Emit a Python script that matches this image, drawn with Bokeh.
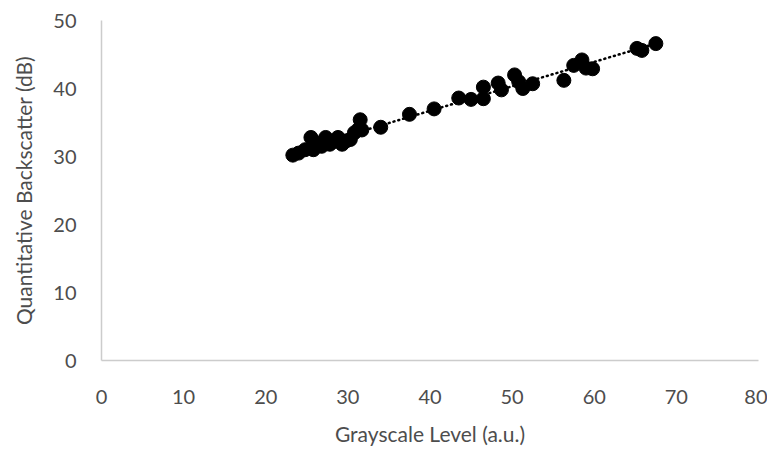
import numpy as np
from bokeh.plotting import figure
from bokeh.models import Range1d, FixedTicker
from bokeh.embed import file_html
from bokeh.resources import INLINE

grayscale = [23.3, 24.0, 24.8, 25.5, 25.8, 26.2, 26.8, 27.3, 27.8, 28.2,
             28.8, 29.3, 29.8, 30.3, 30.8, 31.3, 31.5, 31.7, 34.0, 37.5,
             40.5, 43.5, 45.0, 46.5, 46.5, 48.3, 48.7, 50.3, 50.8, 51.3,
             52.5, 56.3, 57.5, 58.5, 59.0, 59.8, 65.2, 65.8, 67.5]
backscatter = [30.2, 30.5, 31.0, 32.8, 31.0, 32.0, 31.5, 32.8, 31.8, 32.2,
               32.8, 31.8, 32.3, 32.5, 33.5, 34.0, 35.4, 33.9, 34.3, 36.2,
               37.0, 38.6, 38.4, 40.2, 38.5, 40.8, 39.8, 42.0, 41.0, 40.0,
               40.7, 41.2, 43.4, 44.2, 43.0, 42.9, 45.9, 45.6, 46.6]
x_ticks = [0, 10, 20, 30, 40, 50, 60, 70, 80]
y_ticks = [0, 10, 20, 30, 40, 50]

FONT = "Lato"
TXT = "#4d4d4d"

p = figure(width=767, height=448, output_backend="svg", toolbar_location=None,
           x_range=Range1d(0, 80), y_range=Range1d(0, 50),
           min_border_left=101, min_border_right=9, min_border_top=20, min_border_bottom=86)
p.outline_line_color = None
p.xgrid.grid_line_color = None
p.ygrid.grid_line_color = None

# trendline (linear fit)
coef = np.polyfit(grayscale, backscatter, 1)
xs = np.array([min(grayscale), max(grayscale)])
p.line(xs, np.polyval(coef, xs), line_color="black", line_width=2.5,
       line_dash="1 4", line_cap="round")

p.scatter(grayscale, backscatter, size=14, fill_color="black", line_color="black")

for ax in (p.xaxis[0], p.yaxis[0]):
    ax.axis_line_color = "#cccccc"
    ax.axis_line_width = 1.5
    ax.major_tick_line_color = None
    ax.minor_tick_line_color = None
    ax.major_tick_in = 0
    ax.major_tick_out = 0
    ax.major_label_text_font = FONT
    ax.major_label_text_font_size = "20px"
    ax.major_label_text_color = TXT
    ax.axis_label_text_font = FONT
    ax.axis_label_text_font_size = "21px"
    ax.axis_label_text_color = TXT
    ax.axis_label_text_font_style = "normal"

p.xaxis.ticker = FixedTicker(ticks=x_ticks)
p.yaxis.ticker = FixedTicker(ticks=y_ticks)
p.xaxis.axis_label = "Grayscale Level (a.u.)"
p.yaxis.axis_label = "Quantitative Backscatter (dB)"
p.xaxis.major_label_standoff = 29
p.xaxis.axis_label_standoff = 14
p.yaxis.major_label_standoff = 25
p.yaxis.axis_label_standoff = 14

open("out.html", "w").write(file_html(p, INLINE))
